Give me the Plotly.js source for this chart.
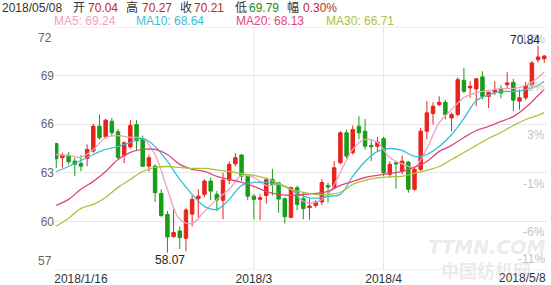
<!DOCTYPE html>
<html><head><meta charset="utf-8">
<script src="https://cdn.plot.ly/plotly-3.0.1.min.js"></script>
<style>html,body{margin:0;padding:0;background:#fff}#c{width:551px;height:285px}</style>
</head><body><div id="c"></div>
<script>
// ---- data ----
const opens = [64.80,63.93,64.09,63.72,63.58,63.88,64.34,65.88,65.22,66.18,
65.53,64.07,64.60,65.98,65.10,63.41,63.41,61.73,60.43,59.06,
59.41,58.96,60.45,61.40,61.67,62.49,61.67,61.30,62.55,63.56,
64.10,62.79,61.56,61.36,61.60,62.60,62.39,61.40,60.25,62.08,
61.40,60.85,60.99,61.20,62.22,62.08,63.62,65.47,64.24,65.88,
65.57,64.69,64.64,65.10,62.90,63.62,63.10,63.66,61.98,63.21,
65.57,66.66,67.21,67.35,66.39,66.60,68.71,68.24,68.18,68.92,
67.72,67.97,68.18,68.44,68.59,67.42,67.63,68.44,69.98,70.04];
const highs = [64.85,64.24,64.27,63.93,64.09,64.75,66.02,66.60,66.33,66.39,
65.70,64.95,66.25,66.25,65.30,64.13,63.52,61.98,60.64,60.79,
59.68,60.85,61.60,61.98,62.60,62.70,61.87,63.00,63.70,64.22,
64.13,62.90,61.67,61.67,62.70,63.25,62.43,61.48,62.15,62.20,
61.77,61.40,61.30,62.60,62.39,63.72,65.57,65.67,65.92,66.49,
66.33,65.06,65.22,65.22,63.70,63.65,64.07,63.72,63.40,65.78,
67.42,67.35,67.72,67.50,66.70,68.90,69.47,68.65,68.86,69.26,
68.00,68.65,68.40,69.20,68.80,68.14,68.60,69.90,70.84,70.27];
const lows = [63.30,63.33,63.50,62.79,63.10,63.41,64.24,65.06,65.10,65.26,
63.85,63.60,64.50,64.34,63.35,63.07,61.20,60.25,58.07,59.00,
58.30,58.17,59.70,60.23,61.50,61.30,60.64,60.13,62.30,63.41,
62.50,61.30,60.13,60.08,61.10,61.60,60.54,59.88,60.20,60.70,
60.13,60.10,60.85,61.00,61.16,61.98,63.52,63.90,64.13,65.06,
64.44,63.72,64.34,62.79,62.70,62.02,62.90,61.77,61.90,63.10,
65.06,65.98,67.11,66.30,65.57,66.50,67.93,67.63,67.11,67.52,
67.00,67.80,67.60,68.24,66.80,66.90,67.50,68.20,69.80,69.79];
const closes = [63.87,64.10,63.68,63.52,63.41,64.44,65.88,65.16,66.25,65.47,
63.95,64.85,65.92,64.98,63.41,63.93,61.77,60.37,59.04,59.31,
59.00,60.70,61.36,61.56,62.49,61.87,61.32,62.55,63.52,63.93,
62.79,61.56,61.36,61.46,62.57,62.28,61.38,60.29,62.08,61.05,
60.79,60.95,61.20,62.40,62.12,63.31,65.47,64.03,65.67,65.47,
64.64,64.61,64.89,63.00,63.52,63.55,63.72,61.98,63.21,65.57,
66.70,67.11,67.35,66.60,66.60,68.75,68.03,68.34,68.80,67.72,
67.97,68.09,67.93,68.55,67.48,67.63,68.38,69.78,70.15,70.21];

// moving-average lines at these candle positions
const maIdx = [0,2,4,6,8,10,12,14,16,18,20,22,24,26,28,30,32,34,36,38,40,42,44,46,48,50,52,54,56,58,60,62,64,66,68,70,72,74,76,78,79];
const ma5  = [64.13,64.07,63.95,64.44,65.18,65.30,65.18,65.12,64.13,61.98,60.13,59.88,60.62,61.36,61.98,62.84,62.72,62.22,62.28,61.98,61.24,61.17,61.67,63.02,64.44,65.06,64.87,63.95,63.55,63.35,64.50,66.10,66.90,67.64,67.95,68.08,68.20,68.20,68.39,68.88,69.24];
const ma10 = [63.08,63.39,63.76,64.13,64.44,64.62,64.87,65.12,64.63,63.70,62.59,61.67,60.93,60.74,61.36,62.22,62.41,62.41,62.28,61.98,61.55,61.42,61.55,61.67,62.78,63.70,64.32,64.50,64.38,64.01,64.13,64.63,65.35,66.35,67.45,67.80,68.02,68.02,68.14,68.39,68.63];
const ma20 = [60.99,61.36,61.98,62.47,63.08,63.82,64.26,64.44,64.44,64.13,63.52,63.21,63.09,62.78,62.59,62.41,62.16,61.85,61.67,61.60,61.67,61.73,61.85,62.22,62.47,62.71,62.84,62.96,63.09,63.33,63.70,64.32,64.69,65.18,65.61,65.86,66.17,66.47,67.03,67.77,68.13];
const ma30 = [59.70,60.19,60.80,61.05,61.48,62.10,62.59,63.08,63.33,63.39,63.33,63.27,63.27,63.18,63.08,62.96,62.84,62.65,62.35,61.98,61.79,61.67,61.67,61.80,62.28,62.53,62.68,62.75,62.78,62.96,63.15,63.39,63.82,64.25,64.69,65.12,65.49,65.92,66.29,66.54,66.71];

const xTickIdx = [4, 32, 53];
const xTickText = ['2018/1/16', '2018/3', '2018/4'];
const lastDateLabel = '2018/5/8';
const yTicks = [72, 69, 66, 63, 60, 57];
const yTickText = ['72', '69', '66', '63', '60', '57'];
const pctText = ['12%', '8%', '3%', '-1%', '-6%', '-11%'];

const headDate = '2018/05/08';
const headNames = ['开', '高', '收', '低', '幅'];
const headVals = ['70.04', '70.27', '70.21', '69.79', '0.30%'];
const maNames = ['MA5', 'MA10', 'MA20', 'MA30'];
const maLast = ['69.24', '68.64', '68.13', '66.71'];

// ---- drawing ----
const RED = '#e8231c', GREEN = '#179d17';
const maColors = ['#f2a0c2', '#3dbcd5', '#e0457f', '#a7c43b'];
const FONT = 'Liberation Sans, Arial, Noto Sans CJK SC, sans-serif';

const W = 551, H = 285, L = 55, R = 4, T = 27, B = 15;
const pw = W - L - R, ph = H - T - B;
const px = v => (v - L) / pw;          // pixel -> paper x
const py = v => (H - B - v) / ph;      // pixel -> paper y

const idx = closes.map((_, i) => i);

const traces = [{
  type: 'candlestick', x: idx, open: opens, high: highs, low: lows, close: closes,
  increasing: {line: {color: RED, width: 1}, fillcolor: RED},
  decreasing: {line: {color: GREEN, width: 1}, fillcolor: GREEN},
  whiskerwidth: 0, hoverinfo: 'skip', showlegend: false
}];
[ma5, ma10, ma20, ma30].forEach((m, k) => traces.push({
  type: 'scatter', mode: 'lines', x: maIdx, y: m,
  line: {color: maColors[k], width: 1.3, shape: 'spline', smoothing: 1},
  hoverinfo: 'skip', showlegend: false
}));

const ann = [];
// header line 1
const headX = [72, 125, 179, 234, 286];
const valX = [87, 141, 193, 248, 302];
const valCol = ['#c0281e', '#c0281e', '#c0281e', '#1d8a1d', '#c0281e'];
const row1 = py(7.5);
ann.push({xref: 'paper', yref: 'paper', x: px(1), y: row1, xanchor: 'left', yanchor: 'middle', borderpad: 0,
  text: headDate, showarrow: false, font: {family: FONT, size: 12, color: '#333'}});
headNames.forEach((n, i) => {
  ann.push({xref: 'paper', yref: 'paper', x: px(headX[i]), y: row1, xanchor: 'left', yanchor: 'middle', borderpad: 0,
    text: n, showarrow: false, font: {family: FONT, size: 12, color: '#333'}});
  ann.push({xref: 'paper', yref: 'paper', x: px(valX[i]), y: row1, xanchor: 'left', yanchor: 'middle', borderpad: 0,
    text: headVals[i], showarrow: false, font: {family: FONT, size: 12, color: valCol[i]}});
});
// header line 2 (MA values)
const maX = [53, 135, 235, 325];
maNames.forEach((n, k) => ann.push({xref: 'paper', yref: 'paper', x: px(maX[k]), y: py(21), xanchor: 'left', yanchor: 'middle', borderpad: 0,
  text: n + ': ' + maLast[k], showarrow: false, font: {family: FONT, size: 12, color: maColors[k]}}));

// edge y labels
ann.push({xref: 'paper', yref: 'y', x: 0, y: yTicks[0], xanchor: 'right', yanchor: 'top', xshift: -1, yshift: -2,
  text: yTickText[0], showarrow: false, font: {family: FONT, size: 12, color: '#666'}});
ann.push({xref: 'paper', yref: 'y', x: 0, y: yTicks[5], xanchor: 'right', yanchor: 'bottom', xshift: -1, yshift: 0,
  text: yTickText[5], showarrow: false, font: {family: FONT, size: 12, color: '#666'}});
// right percentage labels
yTicks.forEach((v, i) => {
  const bottom = i === yTicks.length - 1;
  ann.push({xref: 'paper', yref: 'y', x: 1, y: v, xanchor: 'right', yanchor: bottom ? 'bottom' : 'top',
    yshift: bottom ? 2 : (i === 0 ? -3 : -2), text: pctText[i], showarrow: false,
    font: {family: FONT, size: 12, color: '#c4c4c4'}});
});

// max / min labels
let hi = 0, lo = 0;
highs.forEach((v, i) => { if (v > highs[hi]) hi = i; });
lows.forEach((v, i) => { if (v < lows[lo]) lo = i; });
ann.push({xref: 'x', yref: 'y', x: hi, y: highs[hi], xanchor: 'right', yanchor: 'bottom', xshift: 4, yshift: -3,
  text: highs[hi].toFixed(2), showarrow: false, font: {family: FONT, size: 12, color: '#222'}});
ann.push({xref: 'x', yref: 'y', x: lo, y: lows[lo], xanchor: 'center', yanchor: 'top', xshift: 3, yshift: 2,
  text: lows[lo].toFixed(2), showarrow: false, font: {family: FONT, size: 12, color: '#222'}});

// last date label, right-aligned at the edge
ann.push({xref: 'x', yref: 'paper', x: idx[idx.length - 1], y: py(278), xanchor: 'right', yanchor: 'middle', xshift: 4,
  text: lastDateLabel, showarrow: false, font: {family: FONT, size: 12, color: '#333'}});

// watermark
ann.push({xref: 'paper', yref: 'paper', x: px(486), y: py(247), xanchor: 'center', yanchor: 'middle', borderpad: 0,
  text: 'TTMN.COM', showarrow: false, font: {family: 'DejaVu Sans, sans-serif', size: 19, color: 'rgba(175,175,175,0.25)', weight: 700, style: 'italic'}});
ann.push({xref: 'paper', yref: 'paper', x: px(486), y: py(270), xanchor: 'center', yanchor: 'middle', borderpad: 0,
  text: '中国纺机网', showarrow: false, font: {family: 'Noto Sans CJK SC, sans-serif', size: 18, color: 'rgba(175,175,175,0.25)', weight: 700}});

const shapes = [xTickIdx[1], xTickIdx[2]].map(v => ({
  type: 'line', xref: 'x', yref: 'paper', x0: v, x1: v, y0: 0, y1: 1,
  line: {color: '#e6e6e6', width: 1}, layer: 'below'}));
// gridlines at the top and bottom values too
yTicks.filter(v => v === 72 || v === 57).forEach(v => shapes.push({
  type: 'line', xref: 'paper', yref: 'y', x0: 0, x1: 1, y0: v, y1: v,
  line: {color: '#e6e6e6', width: 1}, layer: 'below'}));

const layout = {
  width: W, height: H, margin: {l: L, r: R, t: T, b: B},
  paper_bgcolor: '#fff', plot_bgcolor: '#fff', showlegend: false, boxgap: 0.2,
  font: {family: FONT},
  xaxis: {range: [-0.2, 79.45], tickmode: 'array', tickvals: xTickIdx, ticktext: xTickText,
    showgrid: false, zeroline: false, showline: false, ticks: '', rangeslider: {visible: false},
    tickfont: {family: FONT, size: 12, color: '#333'}, fixedrange: true},
  yaxis: {range: [57, 72], tickmode: 'array', tickvals: yTicks.slice(1, 5), ticktext: yTickText.slice(1, 5),
    showgrid: true, gridcolor: '#e6e6e6', gridwidth: 1, zeroline: false, showline: false, ticks: '',
    tickfont: {family: FONT, size: 12, color: '#666'}, fixedrange: true},
  shapes: shapes,
  annotations: ann
};

Plotly.newPlot('c', traces, layout, {staticPlot: true, displayModeBar: false});
</script></body></html>
